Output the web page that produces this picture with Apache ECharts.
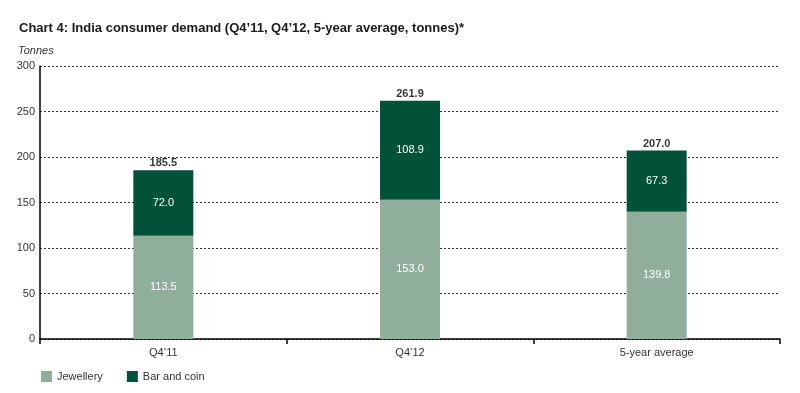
<!DOCTYPE html>
<html>
<head>
<meta charset="utf-8">
<script src="https://cdn.jsdelivr.net/npm/echarts@6/dist/echarts.min.js"></script>
<style>
html,body{margin:0;padding:0;background:#fff;}
#chart{width:800px;height:393px;}
</style>
</head>
<body>
<div id="chart"></div>
<script>
var categories = ["Q4\u201911", "Q4\u201912", "5-year average"];
var jewellery = [113.5, 153.0, 139.8];
var barAndCoin = [72.0, 108.9, 67.3];
var totals = [185.5, 261.9, 207.0];
var yTicks = [0, 50, 100, 150, 200, 250, 300];

var chart = echarts.init(document.getElementById('chart'), null, {renderer: 'canvas'});
var font = '"Liberation Sans", Arial, sans-serif';
chart.setOption({
  animation: false,
  textStyle: {fontFamily: font},
  title: {
    text: 'Chart 4: India consumer demand (Q4\u201911, Q4\u201912, 5-year average, tonnes)*',
    left: 14, top: 17,
    textStyle: {fontSize: 13, fontWeight: 'bold', color: '#1a1a1a', fontFamily: font}
  },
  legend: {
    data: ['Jewellery', 'Bar and coin'],
    left: 36, top: 366,
    itemWidth: 11, itemHeight: 11, itemGap: 24,
    icon: 'rect',
    textStyle: {fontSize: 11, color: '#333', fontFamily: font}
  },
  grid: {left: 40, right: 20, top: 66, bottom: 54},
  xAxis: {
    type: 'category',
    data: categories,
    axisLine: {lineStyle: {color: '#000', width: 1.5}},
    axisTick: {show: true, length: 5, lineStyle: {color: '#000', width: 1.5}},
    axisLabel: {fontSize: 11, color: '#333', margin: 8, fontFamily: font}
  },
  yAxis: {
    type: 'value',
    min: yTicks[0], max: yTicks[yTicks.length - 1], interval: 50,
    name: 'Tonnes',
    nameLocation: 'end',
    nameGap: 10,
    nameTextStyle: {fontStyle: 'italic', fontSize: 11, color: '#333', align: 'left', padding: [0, 0, 0, -22]},
    axisLine: {show: true, lineStyle: {color: '#000', width: 1.5}},
    axisTick: {show: false},
    axisLabel: {fontSize: 11, color: '#333', margin: 5, fontFamily: font},
    splitLine: {lineStyle: {color: '#333', type: [2, 2], width: 1}}
  },
  series: [
    {
      name: 'Jewellery', type: 'bar', stack: 'a', barWidth: 60,
      data: jewellery,
      itemStyle: {color: '#8fae9c'},
      label: {show: true, position: 'inside', color: '#fff', fontSize: 11,
        formatter: function (p) { return p.value.toFixed(1); }}
    },
    {
      name: 'Bar and coin', type: 'bar', stack: 'a', barWidth: 60,
      data: barAndCoin,
      itemStyle: {color: '#02523a'},
      label: {show: true, position: 'inside', color: '#fff', fontSize: 11,
        formatter: function (p) { return p.value.toFixed(1); }}
    },
    {
      name: 'Total', type: 'scatter',
      data: totals,
      symbolSize: 1,
      itemStyle: {color: 'rgba(0,0,0,0)'},
      label: {show: true, position: 'top', distance: 1, color: '#000', fontSize: 11, fontWeight: 'bold',
        formatter: function (p) { return p.value.toFixed(1); }},
      z: 5
    }
  ]
});
</script>
</body>
</html>
